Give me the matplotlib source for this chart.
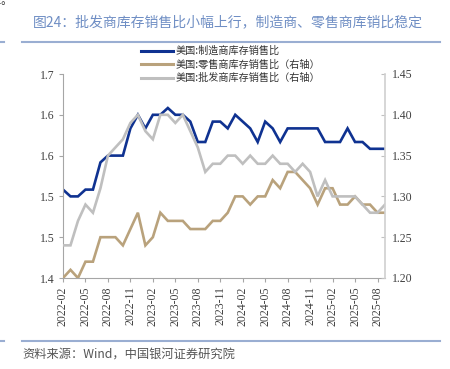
"""US inventory-to-sales ratios: manufacturers, retailers, wholesalers."""

import matplotlib.pyplot as plt
from matplotlib.lines import Line2D
from matplotlib.ticker import FormatStrFormatter

plt.rcParams["font.family"] = ["Noto Sans CJK SC", "DejaVu Sans"]

# monthly, 2022-02 .. 2025-09
months = [f"{2022 + (m - 1) // 12}-{(m - 1) % 12 + 1:02d}" for m in range(2, 46)]

manufacturing = [1.53, 1.52, 1.52, 1.53, 1.53, 1.57, 1.58, 1.58, 1.58, 1.62,
                 1.64, 1.62, 1.64, 1.64, 1.65, 1.64, 1.64, 1.63, 1.60, 1.60,
                 1.63, 1.63, 1.62, 1.64, 1.63, 1.62, 1.60, 1.63, 1.62, 1.60,
                 1.62, 1.62, 1.62, 1.62, 1.62, 1.60, 1.60, 1.60, 1.62, 1.60,
                 1.60, 1.59, 1.59, 1.59]
retail = [1.20, 1.21, 1.20, 1.22, 1.22, 1.25, 1.25, 1.25, 1.24, 1.26,
          1.28, 1.24, 1.25, 1.28, 1.27, 1.27, 1.27, 1.26, 1.26, 1.26,
          1.27, 1.27, 1.28, 1.30, 1.30, 1.29, 1.30, 1.30, 1.32, 1.31,
          1.33, 1.33, 1.32, 1.31, 1.29, 1.31, 1.31, 1.29, 1.29, 1.30,
          1.29, 1.29, 1.28, 1.28]
wholesale = [1.24, 1.24, 1.27, 1.29, 1.28, 1.31, 1.35, 1.36, 1.37, 1.39,
             1.40, 1.38, 1.37, 1.40, 1.40, 1.39, 1.40, 1.38, 1.36, 1.33,
             1.34, 1.34, 1.35, 1.35, 1.34, 1.35, 1.34, 1.34, 1.35, 1.34,
             1.34, 1.33, 1.34, 1.33, 1.30, 1.32, 1.30, 1.30, 1.30, 1.30,
             1.29, 1.28, 1.28, 1.29]

labels = ["美国:制造商库存销售比", "美国:零售商库存销售比（右轴）", "美国:批发商库存销售比（右轴）"]
title = "图24：批发商库存销售比小幅上行，制造商、零售商库销比稳定"
source = "资料来源：Wind，中国银河证券研究院"

BLUE = "#0f3291"
TAN = "#b9a27c"
GRAY = "#bfbfbf"
TICK = "#404040"

fig = plt.figure(figsize=(4.5, 3.69), dpi=100)
ax = fig.add_axes([63 / 450, 1 - 278 / 369, (385 - 63) / 450, (278 - 74) / 369])
ax2 = ax.twinx()

x = list(range(len(months)))
ax.plot(x, manufacturing, color=BLUE, lw=1.9, solid_joinstyle="miter")
ax2.plot(x, retail, color=TAN, lw=1.9, solid_joinstyle="miter")
ax2.plot(x, wholesale, color=GRAY, lw=1.9, solid_joinstyle="miter")

ax.set_xlim(0, len(months) - 1)
ax.set_ylim(1.4, 1.7)
ax.set_yticks([1.40, 1.46, 1.52, 1.58, 1.64, 1.70])
ax.yaxis.set_major_formatter(FormatStrFormatter("%.1f"))
ax2.set_ylim(1.20, 1.45)
ax2.set_yticks([1.20, 1.25, 1.30, 1.35, 1.40, 1.45])
ax2.yaxis.set_major_formatter(FormatStrFormatter("%.2f"))

ax.set_xticks(x[::3])
ax.set_xticklabels(months[::3], rotation=90)

for a in (ax, ax2):
    a.spines["top"].set_visible(False)
    for lab in a.get_xticklabels() + a.get_yticklabels():
        lab.set_fontfamily("Liberation Serif")
        lab.set_fontsize(8.5)
        lab.set_color(TICK)
ax.spines["left"].set_color("#a6a6a6")
ax.spines["bottom"].set_color("#a6a6a6")
ax.spines["right"].set_visible(False)
ax2.spines["left"].set_visible(False)
ax2.spines["bottom"].set_visible(False)
ax2.spines["right"].set_color("#d0d0d0")
ax2.spines["right"].set_linewidth(1.2)
ax.tick_params(axis="both", length=3, color="#a6a6a6", pad=3)
ax2.tick_params(axis="y", direction="in", length=3, color="#c0c0c0", pad=5)

handles = [Line2D([], [], color=c, lw=2.2) for c in (BLUE, TAN, GRAY)]
fig.legend(handles, labels, loc="upper left", bbox_to_anchor=(141 / 450, 1 - 46 / 369),
           frameon=False, fontsize=7.3, handlelength=3.2, handletextpad=0.2,
           labelspacing=0.32, borderpad=0, borderaxespad=0, labelcolor="#333333")

fig.text(33 / 450, 1 - 22 / 369, title, fontsize=10, color="#6f8ec4", va="center")
fig.text(22 / 450, 1 - 355 / 369, source, fontsize=8.8, color="#555555", va="center",
         style="italic")
# fragment of the preceding paragraph, cut by the top edge as in the source page
fig.text(12 / 450, 1 - 1 / 369, "险。", fontsize=8, color="#333333", ha="right", va="center")

rule = "#9aaed2"
for y in (42, 341):
    fig.add_artist(Line2D([22 / 450, 440 / 450], [1 - y / 369] * 2, color=rule, lw=1.5))
    fig.add_artist(Line2D([0, 4 / 450], [1 - y / 369] * 2, color=rule, lw=1.5))

fig.savefig("out.png", dpi=100)
